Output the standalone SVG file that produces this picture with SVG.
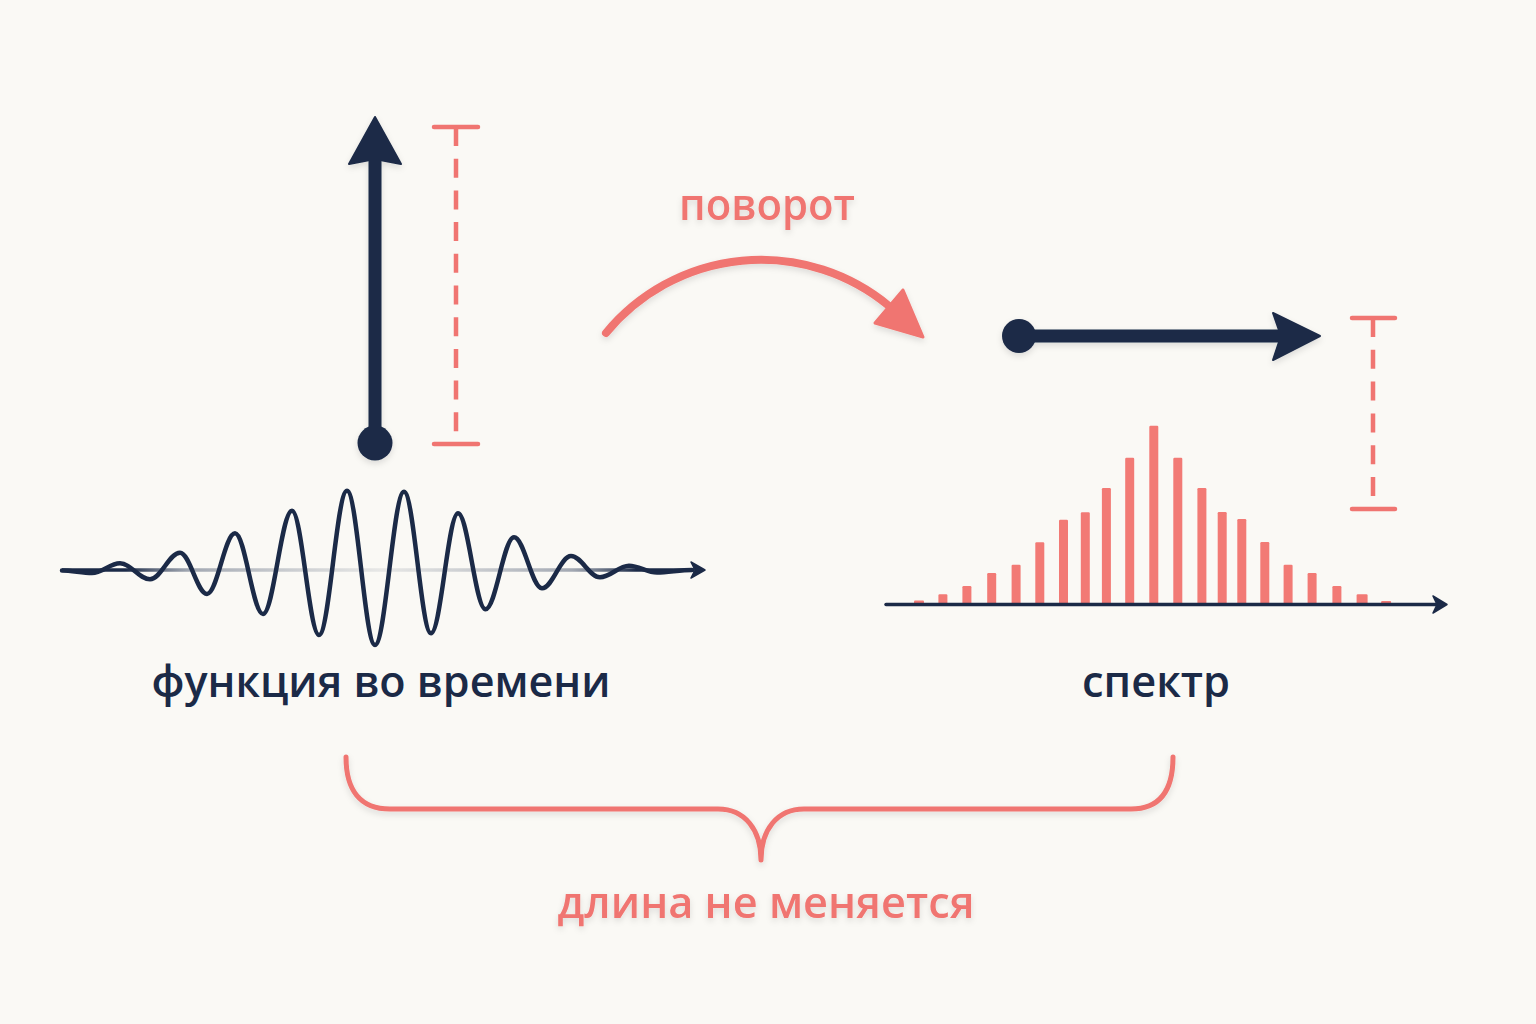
<svg xmlns="http://www.w3.org/2000/svg" width="1536" height="1024" viewBox="0 0 1536 1024">
  <defs>
    <filter id="soft" x="-20%" y="-20%" width="140%" height="140%">
      <feDropShadow dx="0" dy="3" stdDeviation="3" flood-color="#000" flood-opacity="0.12"/>
    </filter>
    <linearGradient id="axisGrad" gradientUnits="userSpaceOnUse" x1="62" y1="0" x2="700" y2="0">
      <stop offset="0" stop-color="#1b2a47"/>
      <stop offset="0.1" stop-color="#1b2a47"/>
      <stop offset="0.2" stop-color="#7d8696" stop-opacity="0.7"/>
      <stop offset="0.5" stop-color="#9aa0aa" stop-opacity="0.2"/>
      <stop offset="0.8" stop-color="#7d8696" stop-opacity="0.7"/>
      <stop offset="0.9" stop-color="#1b2a47"/>
      <stop offset="1" stop-color="#1b2a47"/>
    </linearGradient>
  </defs>
  <style>
    .navy { fill: #1b2a47; }
    .navyline { stroke: #1b2a47; fill: none; stroke-linecap: round; stroke-linejoin: round; }
    .red { fill: #f07571; }
    .redline { stroke: #f07571; fill: none; stroke-linecap: round; stroke-linejoin: round; }
    .dash { stroke: #f07571; stroke-width: 4.5; fill: none; }
    .cap { stroke: #f07571; stroke-width: 4.5; fill: none; stroke-linecap: round; }
    .bar { fill: #f27a75; }
    .lbl { font-family: "Open Sans", "Noto Sans", "DejaVu Sans", sans-serif; font-weight: 600; font-size: 43px; text-anchor: middle; }
  </style>
  <rect width="1536" height="1024" fill="#faf9f5"/>

  <!-- vertical vector (time domain) -->
  <g id="vec-time" filter="url(#soft)">
    <line class="navyline" x1="375" y1="443" x2="375" y2="160" stroke-width="13"/>
    <polygon class="navy" points="375,117 401,164 375,159 349,164" stroke="#1b2a47" stroke-width="2" stroke-linejoin="round"/>
    <circle class="navy" cx="375" cy="443" r="17.5"/>
  </g>

  <!-- left length measure -->
  <g id="measure-left">
    <line class="cap" x1="434" y1="127" x2="478" y2="127"/>
    <line class="cap" x1="434" y1="444" x2="478" y2="444"/>
    <line class="dash" x1="456" y1="127" x2="456" y2="444" stroke-dasharray="19 12.7"/>
  </g>

  <!-- rotation arrow -->
  <g id="rotation" filter="url(#soft)">
    <path class="redline" d="M606,333 A200.7,200.7 0 0 1 889,306" stroke-width="8"/>
    <polygon class="red" points="923,337 903,290 875,323" stroke="#f07571" stroke-width="3" stroke-linejoin="round"/>
    <text class="lbl red" x="767" y="220" textLength="176" lengthAdjust="spacingAndGlyphs">поворот</text>
  </g>

  <!-- horizontal vector (frequency domain) -->
  <g id="vec-freq" filter="url(#soft)">
    <line class="navyline" x1="1019" y1="336" x2="1285" y2="336" stroke-width="13"/>
    <polygon class="navy" points="1320,336 1273,313 1281,336 1273,360" stroke="#1b2a47" stroke-width="2" stroke-linejoin="round"/>
    <circle class="navy" cx="1019" cy="336" r="17"/>
  </g>

  <!-- right length measure -->
  <g id="measure-right">
    <line class="cap" x1="1352" y1="318" x2="1395" y2="318"/>
    <line class="cap" x1="1352" y1="509" x2="1395" y2="509"/>
    <line class="dash" x1="1373" y1="318" x2="1373" y2="509" stroke-dasharray="19 12.8"/>
  </g>

  <!-- time signal -->
  <g id="signal">
    <line x1="62" y1="570" x2="694" y2="570" stroke="url(#axisGrad)" stroke-width="3.5"/>
    <polygon class="navy" points="705,570 691,562 695,570 691,578" stroke="#1b2a47" stroke-width="1.5" stroke-linejoin="round"/>
    <path class="navyline" stroke-width="4.5" d="M62,570.5 C72,570.5 82,573 92,573 C102.2,573 109.8,563.3 120,563.3 C130.9,563.3 139.1,579.3 150,579.3 C160.9,579.3 169.1,552.7 180,552.7 C189.8,552.7 197.2,594 207,594 C217.2,594 224.8,533.3 235,533.3 C245.2,533.3 252.8,614 263,614 C273.5,614 281.5,510.7 292,510.7 C301.8,510.7 309.2,635 319,635 C329.2,635 336.8,490.7 347,490.7 C357.2,490.7 364.8,645 375,645 C385.5,645 393.5,491.7 404,491.7 C413.8,491.7 421.2,633.3 431,633.3 C440.8,633.3 448.2,513.3 458,513.3 C468,513.3 475.5,609.3 485.5,609.3 C495.8,609.3 503.7,537.3 514,537.3 C524.2,537.3 531.8,588.3 542,588.3 C552.5,588.3 560.5,556 571,556 C581.5,556 589.5,577.3 600,577.3 C610.5,577.3 618.5,565.7 629,565.7 C639.2,565.7 646.8,572.5 657,572.5 C668,572.5 680,570 692,570"/>
    <text class="lbl navy" x="381" y="697" textLength="459" lengthAdjust="spacingAndGlyphs">функция во времени</text>
  </g>

  <!-- spectrum -->
  <g id="spectrum">
    <rect class="bar" x="914" y="600.5" width="10" height="3.5" rx="1"/>
    <rect class="bar" x="938.4" y="594.3" width="9" height="9.7" rx="1.2"/>
    <rect class="bar" x="962.4" y="586" width="9" height="18" rx="1.2"/>
    <rect class="bar" x="987.2" y="573" width="9" height="31" rx="1.2"/>
    <rect class="bar" x="1011.6" y="564.7" width="9" height="39.3" rx="1.2"/>
    <rect class="bar" x="1035.3" y="542.3" width="9" height="61.7" rx="1.2"/>
    <rect class="bar" x="1059" y="519.7" width="9" height="84.3" rx="1.2"/>
    <rect class="bar" x="1080.8" y="512.3" width="9" height="91.7" rx="1.2"/>
    <rect class="bar" x="1101.9" y="488" width="9" height="116" rx="1.2"/>
    <rect class="bar" x="1125.2" y="457.7" width="9" height="146.3" rx="1.2"/>
    <rect class="bar" x="1149.3" y="425.7" width="9" height="178.3" rx="1.2"/>
    <rect class="bar" x="1173.3" y="457.7" width="9" height="146.3" rx="1.2"/>
    <rect class="bar" x="1197.4" y="488" width="9" height="116" rx="1.2"/>
    <rect class="bar" x="1217.7" y="512" width="9" height="92" rx="1.2"/>
    <rect class="bar" x="1237.3" y="519" width="9" height="85" rx="1.2"/>
    <rect class="bar" x="1260.3" y="542" width="9" height="62" rx="1.2"/>
    <rect class="bar" x="1283.6" y="564.7" width="9" height="39.3" rx="1.2"/>
    <rect class="bar" x="1307.6" y="573" width="9" height="31" rx="1.2"/>
    <rect class="bar" x="1332.4" y="586" width="9" height="18" rx="1.2"/>
    <rect class="bar" x="1356.6" y="594.3" width="11" height="9.7" rx="1.2"/>
    <rect class="bar" x="1381.1" y="601" width="10" height="3" rx="1"/>
    <line class="navyline" x1="886" y1="604.5" x2="1438" y2="604.5" stroke-width="3.5"/>
    <polygon class="navy" points="1447,604.5 1433,596 1437,604.5 1433,613" stroke="#1b2a47" stroke-width="1.5" stroke-linejoin="round"/>
    <text class="lbl navy" x="1156" y="697" textLength="148" lengthAdjust="spacingAndGlyphs">спектр</text>
  </g>

  <!-- brace + caption -->
  <g id="brace" filter="url(#soft)">
    <path class="redline" stroke-width="5" d="M346,757 C346,790 360,809 390,809 L718,809 C745,809 761,830 761,860 C761,830 777,809 804,809 L1131,809 C1160,809 1173,790 1173,757"/>
    <text class="lbl red" x="766" y="918" textLength="417" lengthAdjust="spacingAndGlyphs">длина не меняется</text>
  </g>
</svg>
